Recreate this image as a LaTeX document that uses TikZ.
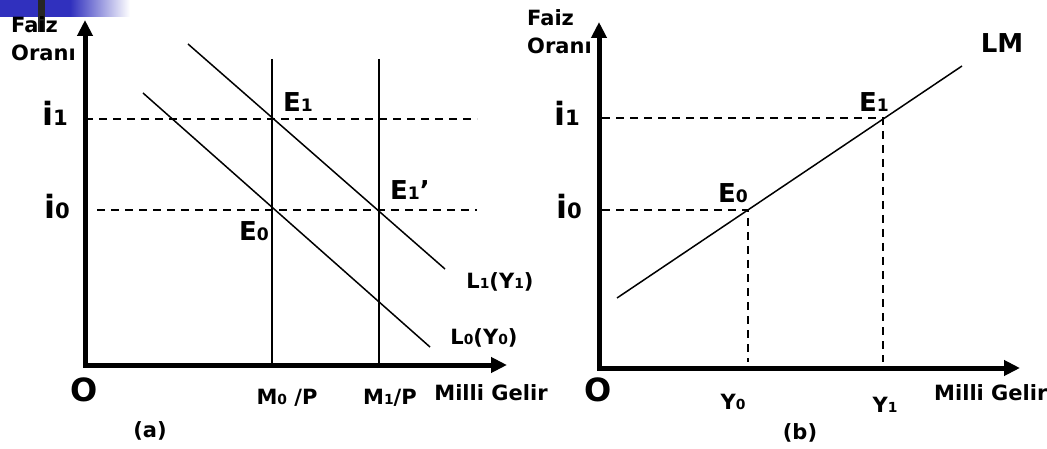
\documentclass[tikz,border=0pt]{standalone}
\usepackage{fontspec}
\setmainfont{DejaVu Sans}
\usetikzlibrary{arrows.meta}
\definecolor{bandblue}{RGB}{48,48,190}
\newcommand{\dgt}[1]{\scalebox{0.66}{#1}}

\begin{document}
\begin{tikzpicture}[x=1pt,y=-1pt,line join=miter,
    axis/.style={line width=5pt,{Triangle[length=16pt,width=15pt]}-{Triangle[length=16pt,width=15pt]}},
    curve/.style={line width=1.5pt},
    guide/.style={line width=1.3pt,dash pattern=on 8pt off 6pt},
    lab/.style={font=\fontsize{21}{25}\selectfont\bfseries,inner sep=0pt},
    sml/.style={font=\fontsize{21}{25}\selectfont\bfseries,inner sep=0pt},
    pnt/.style={font=\fontsize{26}{30}\selectfont\bfseries,inner sep=0pt},
    big/.style={font=\fontsize{32}{36}\selectfont\bfseries,inner sep=0pt}]
  \useasboundingbox (0,0) rectangle (1047,449);
  % slide corner
  \fill[bandblue] (0,0) rectangle (70,17);
  \shade[left color=bandblue,right color=white] (70,0) rectangle (130,17);
  \fill[black!85] (38,0) rectangle (45,32);

  % (a) money market
  \coordinate (LO) at (85,365);
  \coordinate (LY) at (85,20);
  \coordinate (LX) at (507,365);
  \coordinate (Li1) at (85,119);
  \coordinate (Li1e) at (477,119);
  \coordinate (Li0) at (97,210);
  \coordinate (Li0e) at (477,210);
  \coordinate (M0t) at (272,59);
  \coordinate (M0b) at (272,363);
  \coordinate (M1t) at (379,59);
  \coordinate (M1b) at (379,363);
  \coordinate (L1s) at (188,44);
  \coordinate (L1e) at (445,269);
  \coordinate (L0s) at (143,93);
  \coordinate (L0e) at (430,347);
  \draw[guide] (Li1)--(Li1e);
  \draw[guide] (Li0)--(Li0e);
  \draw[curve] (M0t)--(M0b);
  \draw[curve] (M1t)--(M1b);
  \draw[curve] (L1s)--(L1e);
  \draw[curve] (L0s)--(L0e);
  \draw[axis] (LY)--(LO)--(LX);
  \node[lab,anchor=west] (lf) at (11,25) {Faiz};
  \node[lab,anchor=west] (lo) at (11,53) {Oranı};
  \node[big,anchor=east] (li1) at (68,113) {i\dgt{1}};
  \node[big,anchor=east] (li0) at (70,206) {i\dgt{0}};
  \node[pnt] (le1) at (298,102) {E\dgt{1}};
  \node[pnt] (le1p) at (410,190) {E\dgt{1}’};
  \node[pnt] (le0) at (254,231) {E\dgt{0}};
  \node[lab] (ll1) at (500,282) {L\dgt{1}(Y\dgt{1})};
  \node[lab] (ll0) at (484,338) {L\dgt{0}(Y\dgt{0})};
  \node[big] (lorig) at (84,390) {O};
  \node[lab] (lmg) at (491,393) {Milli Gelir};
  \node[sml] (lm0) at (287,398) {M\dgt{0} /P};
  \node[sml] (lm1) at (390,398) {M\dgt{1}/P};
  \node[lab] (la) at (150,431) {(a)};

  % (b) LM curve
  \coordinate (RO) at (599,368);
  \coordinate (RY) at (599,22);
  \coordinate (RX) at (1020,368);
  \coordinate (Ri1) at (602,118);
  \coordinate (Ri0) at (602,210);
  \coordinate (E0) at (748,210);
  \coordinate (E1) at (883,118);
  \coordinate (Y0) at (748,362);
  \coordinate (Y1) at (883,362);
  \coordinate (LMs) at (617,298);
  \coordinate (LMe) at (962,66);
  \draw[guide] (Ri1)--(E1)--(Y1);
  \draw[guide] (Ri0)--(E0)--(Y0);
  \draw[curve] (LMs)--(LMe);
  \draw[axis] (RY)--(RO)--(RX);
  \node[lab,anchor=west] (rf) at (527,18) {Faiz};
  \node[lab,anchor=west] (ro) at (527,46) {Oranı};
  \node[big,anchor=east] (ri1) at (580,113) {i\dgt{1}};
  \node[big,anchor=east] (ri0) at (582,206) {i\dgt{0}};
  \node[pnt] (re0) at (733,193) {E\dgt{0}};
  \node[pnt] (re1) at (874,102) {E\dgt{1}};
  \node[pnt] (rlm) at (1002,43) {LM};
  \node[big] (rorig) at (598,390) {O};
  \node[sml] (ry0) at (733,402) {Y\dgt{0}};
  \node[sml] (ry1) at (885,405) {Y\dgt{1}};
  \node[lab] (rb) at (800,433) {(b)};
  \node[lab,anchor=west] (rmg) at (934,393) {Milli Gelir};
\end{tikzpicture}
\end{document}
